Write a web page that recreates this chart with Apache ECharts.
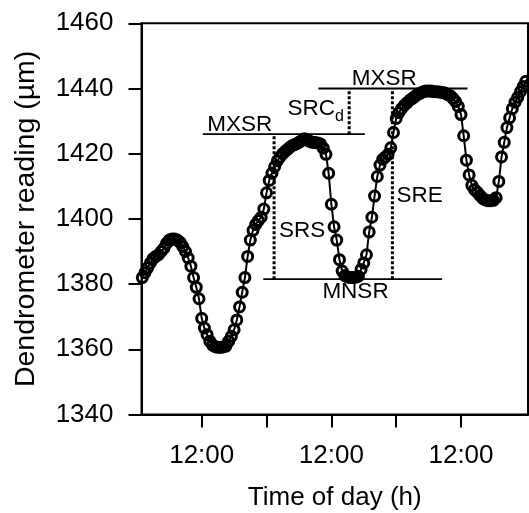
<!DOCTYPE html>
<html>
<head>
<meta charset="utf-8">
<script src="https://cdn.jsdelivr.net/npm/echarts@6/dist/echarts.min.js"></script>
<style>
html,body{margin:0;padding:0;background:#fff;}
#chart{width:529px;height:513px;}
</style>
</head>
<body>
<div id="chart"></div>
<script>
// ---- data ----
const startHour = 1;      // first reading (hours from midnight of day 1)
const stepHours = 0.5;    // sampling interval
const readings = [
  1382.0,1383.5,1385.0,1386.5,1387.8,1388.5,1389.0,1390.0,1391.0,1392.5,
  1393.5,1393.8,1393.8,1393.5,1392.8,1391.5,1390.0,1388.0,1385.5,1382.0,
  1379.0,1375.5,1369.5,1366.5,1364.5,1362.5,1361.3,1360.8,1360.6,1360.6,
  1360.7,1361.0,1362.5,1364.0,1366.0,1369.0,1373.0,1377.5,1382.0,1388.5,
  1393.5,1396.5,1398.3,1399.5,1400.5,1403.0,1408.0,1411.8,1414.0,1416.0,
  1417.8,1419.0,1420.0,1420.8,1421.5,1422.2,1422.7,1423.0,1423.5,1424.0,
  1424.6,1424.3,1423.8,1423.5,1423.4,1423.3,1423.0,1421.7,1419.8,1414.0,
  1404.5,1397.6,1393.5,1387.5,1384.0,1382.6,1382.2,1382.0,1382.0,1382.1,
  1382.4,1384.5,1386.5,1389.0,1396.0,1400.5,1407.0,1413.0,1416.5,1418.3,
  1419.0,1419.8,1421.8,1426.5,1430.8,1432.6,1433.8,1434.8,1435.6,1436.4,
  1437.0,1437.6,1438.2,1438.6,1439.0,1439.2,1439.2,1439.2,1439.0,1439.0,
  1438.9,1438.8,1438.6,1438.2,1437.8,1437.0,1436.0,1434.5,1432.0,1425.5,
  1418.0,1413.5,1410.3,1409.0,1408.2,1407.2,1406.3,1405.8,1405.6,1405.6,
  1405.7,1406.5,1411.5,1419.0,1423.5,1428.0,1431.0,1433.8,1435.8,1437.3,
  1439.0,1440.6,1442.2,1443.6
];
const yTicks = [1340,1360,1380,1400,1420,1440,1460];
const xTickHours = [12,24,36,48,60];
const xLabelHours = [12,36,60];
const xLabelText = '12:00';

// reference levels (µm) and their time spans (h)
const mxsr1 = 1426, mxsr1Span = [12.2, 42.2];
const mxsr2 = 1440, mxsr2Span = [33.6, 61.2];
const mnsr = 1381.5, mnsrSpan = [23.4, 56.5];
const srsHour = 25.4, sreHour = 47.3, srcdHour = 39.3;

// ---- build ----
const seriesData = readings.map((v, i) => [startHour + i * stepHours, v]);
const black = '#000';
const font = 'Liberation Sans, Arial, sans-serif';

function seg(pts, dotted) {
  return {
    type: 'line', data: pts, symbol: 'none', silent: true, z: 1,
    lineStyle: dotted ? {color: black, width: 3, type: [3, 2]} : {color: black, width: 1.8}
  };
}
function txt(x, y, text, size) {
  return {
    type: 'scatter', data: [[x, y]], symbolSize: 0, silent: true, z: 5,
    itemStyle: {color: black, opacity: 1},
    label: {show: true, position: 'inside', formatter: text, color: black, opacity: 1,
            textBorderWidth: 0, textShadowBlur: 0,
            fontSize: size || 22.5, fontFamily: font}
  };
}

const chart = echarts.init(document.getElementById('chart'));
chart.setOption({
  animation: false,
  backgroundColor: '#fff',
  grid: {left: 141.5, right: 1, top: 23.3, bottom: 98.5, show: true,
         outerBoundsMode: 'none', containLabel: false,
         borderColor: black, borderWidth: 2, backgroundColor: 'transparent'},
  xAxis: {
    type: 'value', min: 0.856, max: 72.4,
    name: 'Time of day (h)', nameLocation: 'middle', nameGap: 70,
    nameTextStyle: {fontSize: 26, color: black, fontFamily: font},
    axisLine: {lineStyle: {color: black, width: 2}},
    axisTick: {show: true, length: 13, lineStyle: {color: black, width: 2}, customValues: xTickHours},
    axisLabel: {customValues: xLabelHours, formatter: () => xLabelText, fontSize: 26,
                color: black, fontFamily: font, margin: 28},
    splitLine: {show: false}
  },
  yAxis: {
    type: 'value', min: yTicks[0], max: yTicks[yTicks.length - 1], interval: 20,
    name: 'Dendrometer reading (µm)', nameLocation: 'middle', nameGap: 101,
    nameTextStyle: {fontSize: 28.5, color: black, fontFamily: font},
    axisLine: {show: true, lineStyle: {color: black, width: 2}},
    axisTick: {show: true, length: 13, lineStyle: {color: black, width: 2}},
    axisLabel: {fontSize: 26, color: black, fontFamily: font, margin: 28,
                formatter: v => String(v)},
    splitLine: {show: false}
  },
  series: [
    seg([[mxsr1Span[0], mxsr1], [mxsr1Span[1], mxsr1]]),
    seg([[mxsr2Span[0], mxsr2], [mxsr2Span[1], mxsr2]]),
    seg([[mnsrSpan[0], mnsr], [mnsrSpan[1], mnsr]]),
    seg([[srsHour, mnsr], [srsHour, mxsr1]], true),
    seg([[sreHour, mnsr], [sreHour, mxsr2]], true),
    seg([[srcdHour, mxsr1], [srcdHour, mxsr2]], true),
    {
      type: 'line', data: seriesData, z: 3,
      symbol: 'circle', symbolSize: 10, showAllSymbol: true,
      itemStyle: {color: 'rgba(0,0,0,0)', borderColor: black, borderWidth: 3},
      lineStyle: {color: black, width: 2}
    },
    txt(19.03, 1429.0, 'MXSR'),
    txt(45.8, 1443.1, 'MXSR'),
    txt(32.27, 1433.7, 'SRC'),
    txt(37.5, 1431.3, 'd', 16),
    txt(30.6, 1396.4, 'SRS'),
    txt(52.36, 1407.2, 'SRE'),
    txt(40.47, 1377.6, 'MNSR')
  ]
});
</script>
</body>
</html>
